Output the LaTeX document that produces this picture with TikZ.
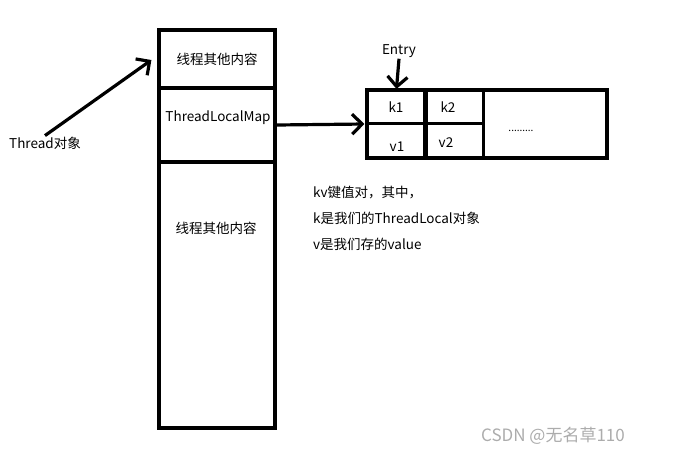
\documentclass[tikz,border=0pt]{standalone}
\usepackage{fontspec}
\setmainfont{Noto Sans CJK SC}
\usetikzlibrary{arrows.meta}

\begin{document}
\begin{tikzpicture}[x=1pt,y=-1pt,
  cell/.style={draw,line width=3.2pt,rectangle,inner sep=0pt,font=\fontsize{13.5}{15}\selectfont},
  lbl/.style={inner sep=1pt,font=\fontsize{13.5}{15}\selectfont},
  arrow/.style={line width=3.2pt,-{Straight Barb[length=10pt,width=20pt,line width=3.2pt]}}]
\useasboundingbox (0,0) rectangle (680,459);
% thread object
\node[cell, minimum width=116pt, minimum height=58pt] (top) at (217,59) {线程其他内容};
\node[cell, minimum width=116pt, minimum height=74pt] (tlm) at (217,125) {};
\node[cell, minimum width=116pt, minimum height=266pt] (rest) at (217,295) {};
\node[lbl] (tlmtext) at (218,118) {ThreadLocalMap};
\node[lbl] (resttext) at (216,228) {线程其他内容};
\node[lbl] (thread) at (45,143) {Thread对象};
% map
\node[cell, minimum width=240pt, minimum height=68pt] (mapbox) at (487,124) {};
\foreach \n/\x/\y in {k1/396.5/106.5,k2/454/106.5,v1/396.5/140.5,v2/454/140.5} {
  \node[cell, minimum width=59pt, minimum height=34pt] (\n) at (\x,\y) {};
}
\node[lbl] (k1t) at (396,107) {k1};
\node[lbl] (k2t) at (448,107) {k2};
\node[lbl] (v1t) at (397,147) {v1};
\node[lbl] (v2t) at (446,143) {v2};
\node[lbl, font=\fontsize{10}{12}\selectfont] (dots) at (521,131) {.........};
\node[lbl] (entry) at (399,51) {Entry};
% arrows
\draw[arrow] (thread.north) -- ([xshift=-6pt,yshift=-1pt]top.west);
\draw[arrow] (tlm.east) -- ([xshift=-1pt]mapbox.west);
\draw[arrow] (entry.south) -- ([yshift=-1pt]k1.north);
% note
\node[lbl, anchor=west, align=left, font=\fontsize{13.5}{29}\selectfont] (note) at (312,218)
  {kv键值对，其中，\\[-3pt] k是我们的ThreadLocal对象\\[-3pt] v是我们存的value};
\node[lbl, text=gray!65, font=\fontsize{17}{19}\selectfont] (mark) at (553,436) {CSDN @无名草110};
\end{tikzpicture}
\end{document}
